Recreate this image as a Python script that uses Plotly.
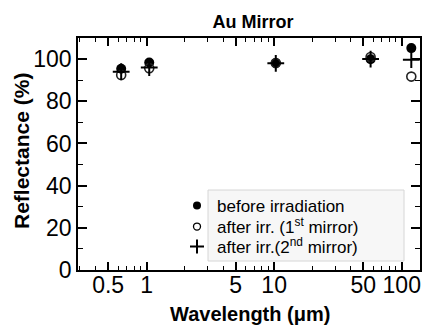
import plotly.graph_objects as go

# ---- data ----
wavelength_um = [0.633, 1.05, 10.3, 57, 118.8]
before_irr = [95.4, 98.4, 98.1, 99.9, 105.2]
after_irr_1st = [92.5, 95.7, 98.1, 101.0, 91.7]
after_irr_2nd = [94.0, 96.0, 98.0, 100.0, 99.7]

series_names = ["before irradiation",
                "after irr. (1<sup>st</sup> mirror)",
                "after irr.(2<sup>nd</sup> mirror)"]

x_tickvals = [0.5, 1, 5, 10, 50, 100]
x_ticktext = ["0.5", "1", "5", "10", "50", "100"]
y_tickvals = [0, 20, 40, 60, 80, 100]

x_minor = [round(m * d, 3) for d in (0.1, 1, 10) for m in range(2, 10)]
x_minor = [v for v in x_minor if v not in x_tickvals]

FONT = "Liberation Sans, Arial, sans-serif"

W, H = 423, 326
L, R, T, B = 78, 3, 38, 56
PW, PH = W - L - R, H - T - B


def px(x):  # figure px -> paper x
    return (x - L) / PW


def py(y):  # figure px -> paper y
    return (H - B - y) / PH


fig = go.Figure()

# legend background box
fig.add_shape(type="rect", xref="paper", yref="paper",
              x0=px(208), x1=px(404), y0=py(261), y1=py(190),
              fillcolor="#f7f7f7", line=dict(color="#d6d6d6", width=1),
              layer="below")

# data traces
fig.add_trace(go.Scatter(x=wavelength_um, y=before_irr, mode="markers",
                         marker=dict(symbol="circle", size=10, color="black"),
                         showlegend=False))
fig.add_trace(go.Scatter(x=wavelength_um, y=after_irr_1st, mode="markers",
                         marker=dict(symbol="circle-open", size=9, color="#222",
                                     line=dict(width=1.6, color="#222")),
                         showlegend=False))
fig.add_trace(go.Scatter(x=wavelength_um, y=after_irr_2nd, mode="markers",
                         marker=dict(symbol="cross-thin-open", size=12, color="black",
                                     line=dict(width=2, color="black")),
                         showlegend=False))

# legend entries, one legend each for exact row placement
legend_rows_y = [206, 227, 247]
legend_markers = [
    dict(symbol="circle", size=8, color="black"),
    dict(symbol="circle-open", size=7, color="black", line=dict(width=1.3, color="black")),
    dict(symbol="cross-thin-open", size=10, color="black", line=dict(width=2, color="black")),
]
legend_keys = ["legend", "legend2", "legend3"]
for name, mk, key in zip(series_names, legend_markers, legend_keys):
    fig.add_trace(go.Scatter(x=[None], y=[None], mode="markers", name=name,
                             marker=mk, legend=key))

layout_legends = {}
for key, yc in zip(legend_keys, legend_rows_y):
    layout_legends[key] = dict(x=px(177), xanchor="left", y=py(yc), yanchor="middle",
                               bgcolor="rgba(0,0,0,0)", borderwidth=0,
                               font=dict(size=17, family=FONT, color="black"),
                               itemsizing="trace")

fig.update_layout(
    width=W, height=H,
    margin=dict(l=L, r=R, t=T, b=B),
    paper_bgcolor="white", plot_bgcolor="white",
    font=dict(family=FONT, color="black"),
    title=dict(text="Au Mirror", x=253 / W, xanchor="center",
               y=1 - 22 / H, yanchor="middle",
               font=dict(size=18, weight="bold", family=FONT, color="black")),
    showlegend=True,
    **layout_legends,
)

fig.add_annotation(text="Wavelength (μm)", xref="paper", yref="paper",
                   x=px(250), y=py(314), xanchor="center", yanchor="middle",
                   showarrow=False,
                   font=dict(size=20, weight="bold", family=FONT, color="black"))
fig.add_annotation(text="Reflectance (%)", xref="paper", yref="paper",
                   x=px(21.5), y=py(151.5), xanchor="center", yanchor="middle",
                   textangle=-90, showarrow=False,
                   font=dict(size=21, weight="bold", family=FONT, color="black"))

fig.update_xaxes(
    type="log", range=[-0.537, 2.143],
    tickvals=x_tickvals, ticktext=x_ticktext,
    ticks="inside", ticklen=8, tickwidth=1.5, tickcolor="black",
    minor=dict(tickvals=x_minor, ticks="inside", ticklen=4, tickwidth=1.3,
               tickcolor="black", showgrid=False),
    showline=True, linecolor="black", linewidth=1.6, mirror="ticks",
    showgrid=False, zeroline=False,
    tickfont=dict(size=23, family=FONT, color="black"),
    ticklabelstandoff=-6,
    automargin=False,
)
fig.update_yaxes(
    range=[0, 110],
    tickvals=y_tickvals,
    ticks="inside", ticklen=9, tickwidth=1.5, tickcolor="black",
    minor=dict(dtick=10, ticks="inside", ticklen=5, tickwidth=1.3,
               tickcolor="black", showgrid=False),
    showline=True, linecolor="black", linewidth=1.6, mirror="ticks",
    showgrid=False, zeroline=False,
    tickfont=dict(size=23, family=FONT, color="black"),
    automargin=False,
)

fig.write_html(
    "out.html",
    config={"displayModeBar": False},
    post_script="document.body.style.margin='0';document.body.style.overflow='hidden';",
)
